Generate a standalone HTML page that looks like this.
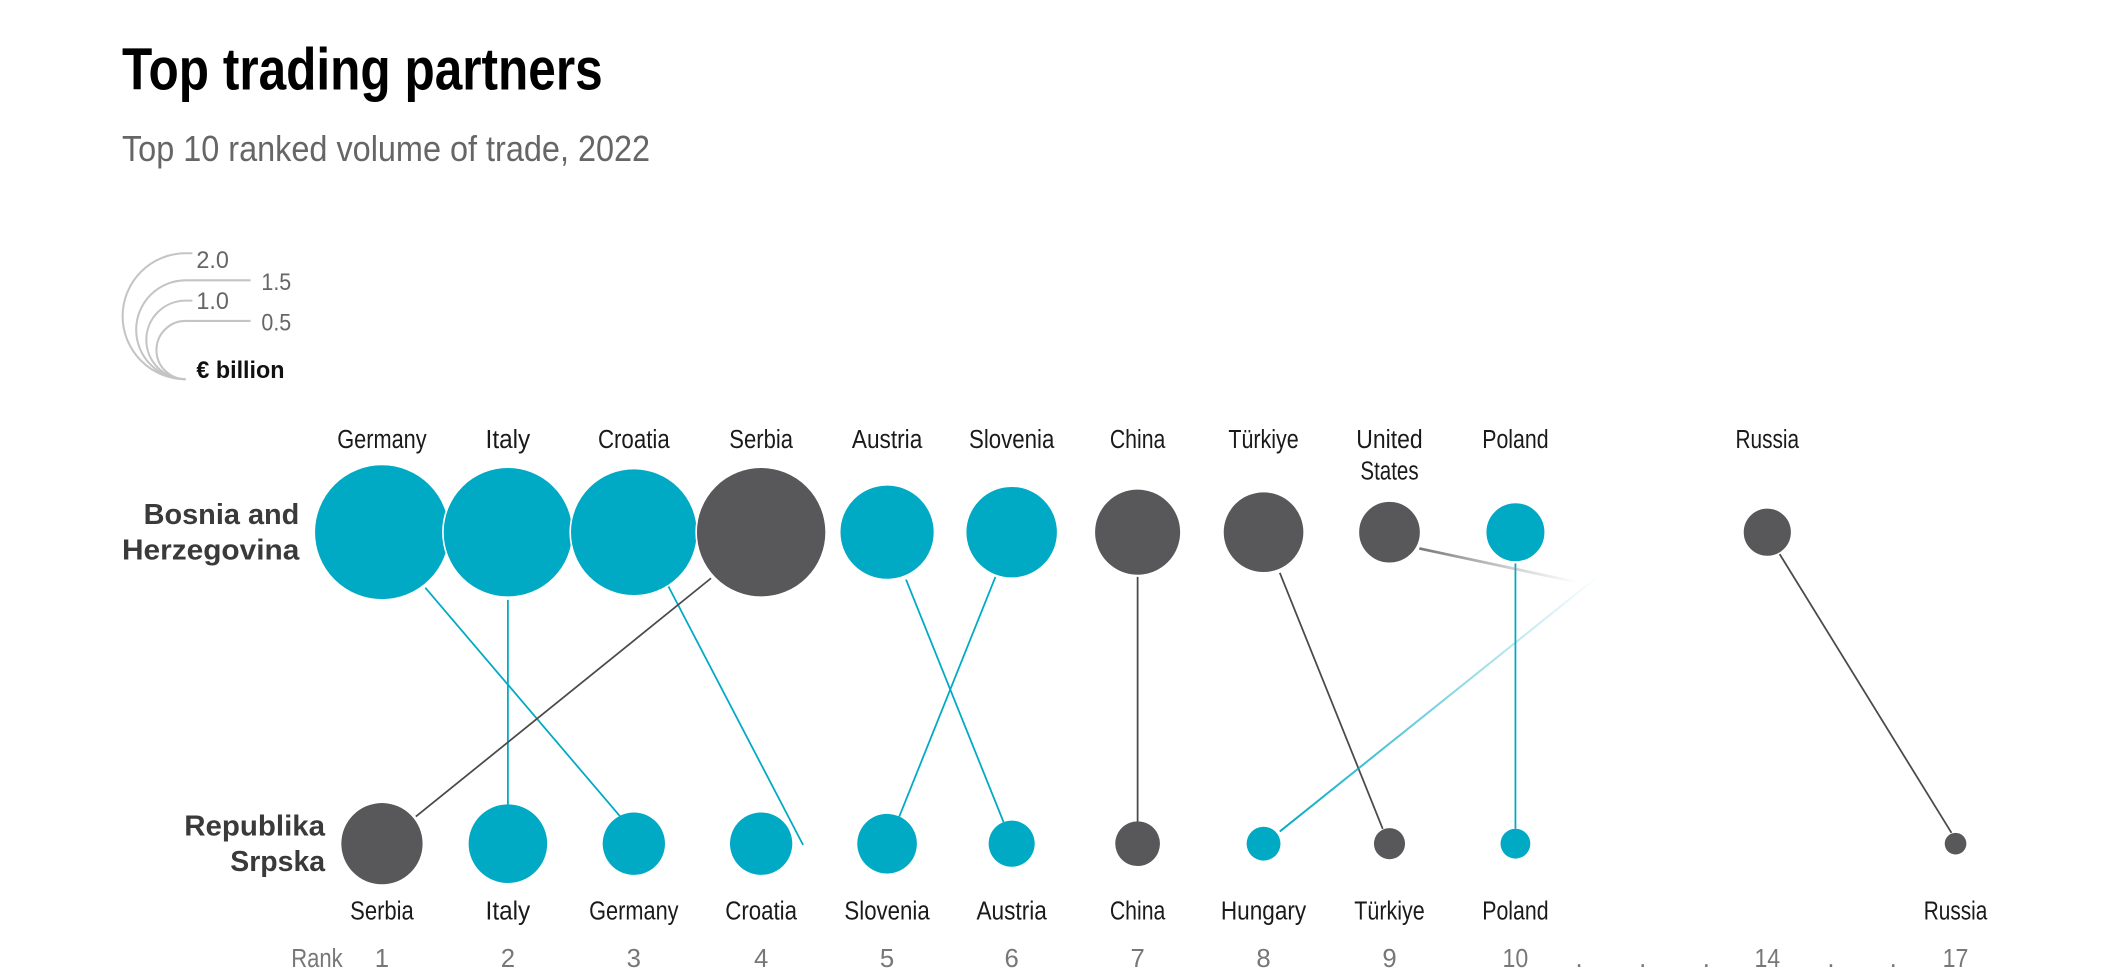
<!DOCTYPE html>
<html><head><meta charset="utf-8"><style>
html,body{margin:0;padding:0;background:#fff;}
svg{display:block;}
text{font-family:"Liberation Sans Narrow","Liberation Sans",sans-serif;}
</style></head><body>
<svg width="2110" height="973" viewBox="0 0 1558 718.5" xmlns="http://www.w3.org/2000/svg">
<defs>
<linearGradient id="gus" gradientUnits="userSpaceOnUse" x1="1048" y1="405" x2="1165" y2="430">
<stop offset="0" stop-color="#777" stop-opacity="1"/><stop offset="1" stop-color="#999" stop-opacity="0"/></linearGradient>
<linearGradient id="ghu" gradientUnits="userSpaceOnUse" x1="945" y1="614" x2="1182" y2="424">
<stop offset="0" stop-color="#00a9c4" stop-opacity="1"/><stop offset="1" stop-color="#00a9c4" stop-opacity="0"/></linearGradient>
</defs>
<text x="90" y="66" font-size="44" font-weight="bold" fill="#000" textLength="355" lengthAdjust="spacingAndGlyphs">Top trading partners</text>
<text x="90" y="119" font-size="27" fill="#666" textLength="390" lengthAdjust="spacingAndGlyphs">Top 10 ranked volume of trade, 2022</text>

<!-- legend -->
<g fill="none" stroke="#c4c4c4" stroke-width="1.5">
<path d="M137,280 A46.5,46.5 0 0 1 137,187 L142,187"/>
<path d="M137,280 A36.5,36.5 0 0 1 137,207 L185,207"/>
<path d="M137,280 A29,29 0 0 1 137,222 L142,222"/>
<path d="M137,280 A21.5,21.5 0 0 1 137,237 L185,237"/>
</g>
<g font-size="18" fill="#666" lengthAdjust="spacingAndGlyphs">
<text x="145" y="198" textLength="24" lengthAdjust="spacingAndGlyphs">2.0</text><text x="193" y="214" textLength="22" lengthAdjust="spacingAndGlyphs">1.5</text>
<text x="145" y="228" textLength="24" lengthAdjust="spacingAndGlyphs">1.0</text><text x="193" y="244" textLength="22" lengthAdjust="spacingAndGlyphs">0.5</text>
</g>
<text x="145" y="279" font-size="18" font-weight="bold" fill="#111" textLength="65" lengthAdjust="spacingAndGlyphs">€ billion</text>

<!-- row labels -->
<g font-size="21" font-weight="bold" fill="#3a3a3a" text-anchor="end">
<text x="221" y="387" textLength="115" lengthAdjust="spacingAndGlyphs">Bosnia and</text>
<text x="221" y="413" textLength="131" lengthAdjust="spacingAndGlyphs">Herzegovina</text>
<text x="240" y="617" textLength="104" lengthAdjust="spacingAndGlyphs">Republika</text>
<text x="240" y="643" textLength="70" lengthAdjust="spacingAndGlyphs">Srpska</text>
</g>

<!-- lines -->
<g stroke-width="1.3" fill="none">
<line x1="314" y1="434" x2="458" y2="603" stroke="#00a9c4"/>
<line x1="375" y1="443" x2="375" y2="597" stroke="#00a9c4"/>
<line x1="493" y1="432" x2="593" y2="624" stroke="#00a9c4"/>
<line x1="525" y1="427" x2="307" y2="603" stroke="#4a4a4a"/>
<line x1="669" y1="428" x2="741" y2="607" stroke="#00a9c4"/>
<line x1="735" y1="426" x2="664" y2="603" stroke="#00a9c4"/>
<line x1="840" y1="426" x2="840" y2="607" stroke="#4a4a4a"/>
<line x1="945" y1="423" x2="1021" y2="612" stroke="#4a4a4a"/>
<line x1="1119" y1="416" x2="1119" y2="612" stroke="#00a9c4"/>
<line x1="1314" y1="409" x2="1441" y2="615" stroke="#4a4a4a"/>
<line x1="1048" y1="405" x2="1165" y2="430" stroke="url(#gus)" stroke-width="2"/>
<line x1="945" y1="614" x2="1182" y2="424" stroke="url(#ghu)" stroke-width="1.5"/>
</g>

<!-- top circles -->
<g stroke="#fff" stroke-width="1.2">
<circle cx="282" cy="393" r="50" fill="#00a9c4"/>
<circle cx="375" cy="393" r="48" fill="#00a9c4"/>
<circle cx="468" cy="393" r="47" fill="#00a9c4"/>
<circle cx="562" cy="393" r="48" fill="#58585a"/>
<circle cx="655" cy="393" r="35" fill="#00a9c4"/>
<circle cx="747" cy="393" r="34" fill="#00a9c4"/>
<circle cx="840" cy="393" r="32" fill="#58585a"/>
<circle cx="933" cy="393" r="30" fill="#58585a"/>
<circle cx="1026" cy="393" r="23" fill="#58585a"/>
<circle cx="1119" cy="393" r="22" fill="#00a9c4"/>
<circle cx="1305" cy="393" r="18" fill="#58585a"/>
</g>
<!-- bottom circles -->
<g>
<circle cx="282" cy="623" r="30" fill="#58585a"/>
<circle cx="375" cy="623" r="29" fill="#00a9c4"/>
<circle cx="468" cy="623" r="23" fill="#00a9c4"/>
<circle cx="562" cy="623" r="23" fill="#00a9c4"/>
<circle cx="655" cy="623" r="22" fill="#00a9c4"/>
<circle cx="747" cy="623" r="17" fill="#00a9c4"/>
<circle cx="840" cy="623" r="16.5" fill="#58585a"/>
<circle cx="933" cy="623" r="12.5" fill="#00a9c4"/>
<circle cx="1026" cy="623" r="11.5" fill="#58585a"/>
<circle cx="1119" cy="623" r="11" fill="#00a9c4"/>
<circle cx="1444" cy="623" r="8" fill="#58585a"/>
</g>

<!-- top labels -->
<g font-size="19" fill="#1a1a1a" text-anchor="middle">
<text x="282" y="331" textLength="66" lengthAdjust="spacingAndGlyphs">Germany</text>
<text x="375" y="331" textLength="33" lengthAdjust="spacingAndGlyphs">Italy</text>
<text x="468" y="331" textLength="53" lengthAdjust="spacingAndGlyphs">Croatia</text>
<text x="562" y="331" textLength="47" lengthAdjust="spacingAndGlyphs">Serbia</text>
<text x="655" y="331" textLength="52" lengthAdjust="spacingAndGlyphs">Austria</text>
<text x="747" y="331" textLength="63" lengthAdjust="spacingAndGlyphs">Slovenia</text>
<text x="840" y="331" textLength="41" lengthAdjust="spacingAndGlyphs">China</text>
<text x="933" y="331" textLength="52" lengthAdjust="spacingAndGlyphs">Türkiye</text>
<text x="1026" y="331" textLength="49" lengthAdjust="spacingAndGlyphs">United</text>
<text x="1026" y="354" textLength="43" lengthAdjust="spacingAndGlyphs">States</text>
<text x="1119" y="331" textLength="49" lengthAdjust="spacingAndGlyphs">Poland</text>
<text x="1305" y="331" textLength="47" lengthAdjust="spacingAndGlyphs">Russia</text>
</g>
<!-- bottom labels -->
<g font-size="19" fill="#1a1a1a" text-anchor="middle">
<text x="282" y="679" textLength="47" lengthAdjust="spacingAndGlyphs">Serbia</text>
<text x="375" y="679" textLength="33" lengthAdjust="spacingAndGlyphs">Italy</text>
<text x="468" y="679" textLength="66" lengthAdjust="spacingAndGlyphs">Germany</text>
<text x="562" y="679" textLength="53" lengthAdjust="spacingAndGlyphs">Croatia</text>
<text x="655" y="679" textLength="63" lengthAdjust="spacingAndGlyphs">Slovenia</text>
<text x="747" y="679" textLength="52" lengthAdjust="spacingAndGlyphs">Austria</text>
<text x="840" y="679" textLength="41" lengthAdjust="spacingAndGlyphs">China</text>
<text x="933" y="679" textLength="63" lengthAdjust="spacingAndGlyphs">Hungary</text>
<text x="1026" y="679" textLength="52" lengthAdjust="spacingAndGlyphs">Türkiye</text>
<text x="1119" y="679" textLength="49" lengthAdjust="spacingAndGlyphs">Poland</text>
<text x="1444" y="679" textLength="47" lengthAdjust="spacingAndGlyphs">Russia</text>
</g>
<!-- ranks -->
<g font-size="19" fill="#777" text-anchor="middle">
<text x="234" y="714" textLength="38" lengthAdjust="spacingAndGlyphs">Rank</text>
<text x="282" y="714">1</text><text x="375" y="714">2</text><text x="468" y="714">3</text>
<text x="562" y="714">4</text><text x="655" y="714">5</text><text x="747" y="714">6</text>
<text x="840" y="714">7</text><text x="933" y="714">8</text><text x="1026" y="714">9</text>
<text x="1119" y="714" textLength="19" lengthAdjust="spacingAndGlyphs">10</text>
<text x="1166" y="714">.</text><text x="1213" y="714">.</text><text x="1260" y="714">.</text>
<text x="1305" y="714" textLength="19" lengthAdjust="spacingAndGlyphs">14</text>
<text x="1352" y="714">.</text><text x="1398" y="714">.</text>
<text x="1444" y="714" textLength="19" lengthAdjust="spacingAndGlyphs">17</text>
</g>
</svg>
</body></html>
